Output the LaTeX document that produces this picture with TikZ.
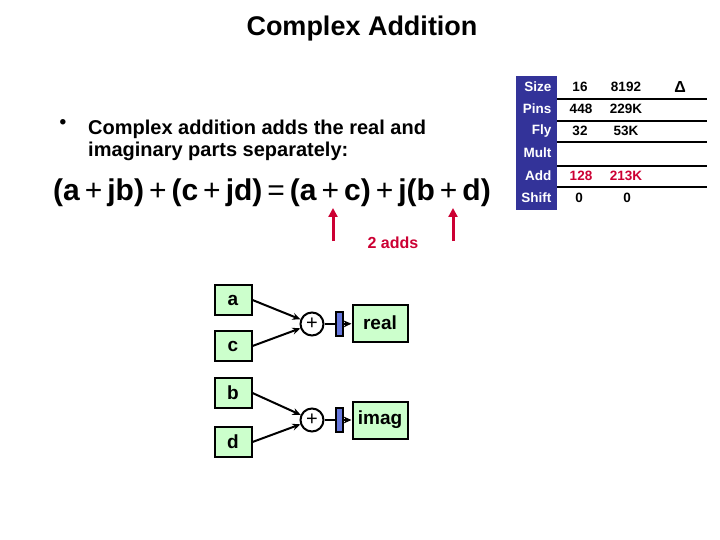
\documentclass[tikz,border=0pt]{standalone}
\usepackage{fontspec}
\setmainfont{Liberation Sans}
\usetikzlibrary{arrows.meta}
\definecolor{c1}{RGB}{204,255,204}
\definecolor{c2}{RGB}{51,51,153}
\definecolor{c3}{RGB}{204,0,51}
\definecolor{c4}{RGB}{102,119,221}

\begin{document}
\begin{tikzpicture}[x=1pt,y=-1pt,font=\bfseries,
  inbox/.style={draw,line width=2pt,fill=c1,minimum width=37pt,minimum height=30pt,inner sep=0pt,font=\fontsize{19}{22}\bfseries},
  outbox/.style={draw,line width=2pt,fill=c1,minimum width=55pt,minimum height=37pt,inner sep=0pt,font=\fontsize{19}{22}\bfseries},
  adder/.style={draw,line width=2pt,circle,minimum size=23pt,inner sep=0pt,font=\fontsize{20}{22}\mdseries},
  reg/.style={draw,line width=1.6pt,fill=c4,minimum width=7pt,minimum height=24pt,inner sep=0pt},
  wire/.style={line width=2pt,-{Stealth[length=8pt,width=7pt]}},
  tab/.style={font=\fontsize{13.5}{15}\bfseries}]
\useasboundingbox (0,0) rectangle (720,540);

%%% Title and bullet
\node (title) at (362,29) {\fontsize{27}{30}\selectfont Complex Addition};
\node (bul) at (63,124) {\fontsize{19}{20}\selectfont •};
\node[anchor=base west,align=left,inner sep=0pt,font=\fontsize{20}{22}\bfseries] (txt) at (88,157)
  {Complex addition adds the real and\\imaginary parts separately:};

%%% Equation
\node (eq) at (272,193) {\fontsize{30}{34}\selectfont
  (a\,{\mdseries +}\,jb)\,{\mdseries +}\,(c\,{\mdseries +}\,jd)\,{\mdseries =}\,(a\,{\mdseries +}\,c)\,{\mdseries +}\,j(b\,{\mdseries +}\,d)};

%%% Red arrows
\coordinate (ar1s) at (333,241);
\coordinate (ar1e) at (333,208);
\coordinate (ar2s) at (453,241);
\coordinate (ar2e) at (453,208);
\draw[c3,line width=3pt,-{Triangle[length=9pt,width=9pt]}] (ar1s) -- (ar1e);
\draw[c3,line width=3pt,-{Triangle[length=9pt,width=9pt]}] (ar2s) -- (ar2e);
\node[text=c3] (adds) at (393,243) {\fontsize{16}{18}\selectfont 2 adds};

%%% Real part
\node[inbox] (a) at (233,300) {a};
\node[inbox] (c) at (233,346) {c};
\node[adder] (p1) at (312,324) {+};
\node[reg] (r1) at (339.5,324) {};
\node[outbox] (real) at (380,323) {real};
\draw[wire] (a.east) -- (p1);
\draw[wire] (c.east) -- (p1);
\draw[line width=2pt] (p1) -- (r1);
\draw[wire] (r1) -- (real);

%%% Imaginary part
\node[inbox] (b) at (233,393) {b};
\node[inbox] (d) at (233,442) {d};
\node[adder] (p2) at (312,420) {+};
\node[reg] (r2) at (339.5,420) {};
\node[outbox] (imag) at (380,420) {imag};
\draw[wire] (b.east) -- (p2);
\draw[wire] (d.east) -- (p2);
\draw[line width=2pt] (p2) -- (r2);
\draw[wire] (r2) -- (imag);

%%% Table
\fill[c2] (516,76) rectangle (557,210);
\node[tab,anchor=east,text=white] (lsize) at (555,87) {Size};
\node[tab,anchor=east,text=white] (lpins) at (555,109) {Pins};
\node[tab,anchor=east,text=white] (lfly) at (555,131) {Fly};
\node[tab,anchor=east,text=white] (lmult) at (555,153) {Mult};
\node[tab,anchor=east,text=white] (ladd) at (555,176) {Add};
\node[tab,anchor=east,text=white] (lshift) at (555,198) {Shift};

\node[tab] (v11) at (580,87) {16};
\node[tab] (v12) at (626,87) {8192};
\node[tab,font=\fontsize{16}{18}\bfseries] (delta) at (680,87) {Δ};
\node[tab] (v21) at (581,109) {448};
\node[tab] (v22) at (626,109) {229K};
\node[tab] (v31) at (580,131) {32};
\node[tab] (v32) at (626,131) {53K};
\node[tab,text=c3] (v51) at (581,176) {128};
\node[tab,text=c3] (v52) at (626,176) {213K};
\node[tab] (v61) at (579,198) {0};
\node[tab] (v62) at (627,198) {0};

\draw[line width=2pt] (557,99) -- (707,99);
\draw[line width=2pt] (557,121) -- (707,121);
\draw[line width=2pt] (557,142) -- (707,142);
\draw[line width=2pt] (557,166) -- (707,166);
\draw[line width=2pt] (557,187) -- (707,187);
\end{tikzpicture}
\end{document}
